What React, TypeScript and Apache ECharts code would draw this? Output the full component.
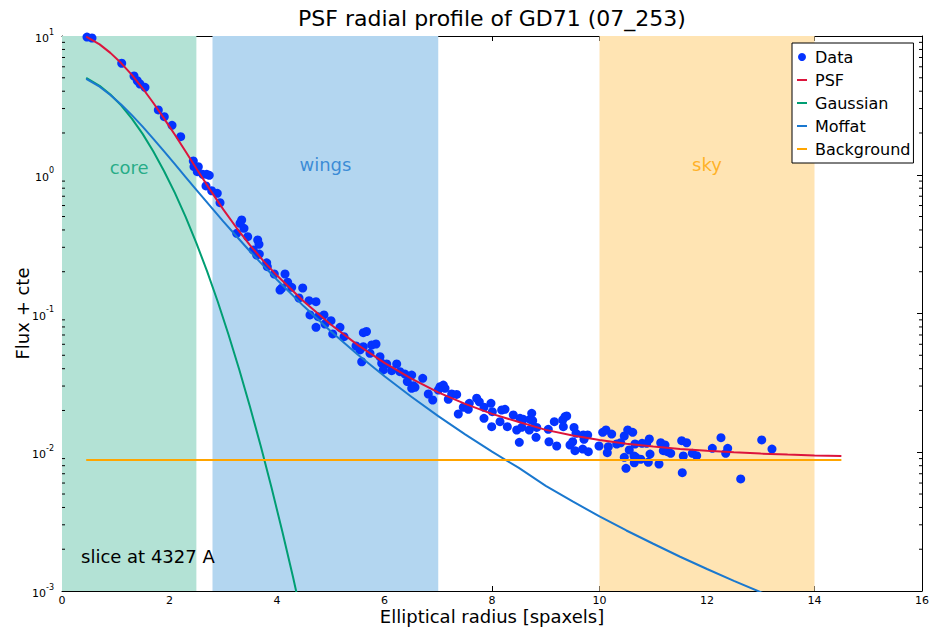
import React, { useEffect, useRef } from "react";
import * as echarts from "echarts";

// ---- data ----
const dataRadius = [
  0.465, 0.558, 1.111, 1.34, 1.401, 1.451, 1.544, 1.792, 1.903, 2.047, 2.208, 2.443, 2.456, 2.536, 2.517, 2.618, 2.692, 2.74, 2.679, 2.785,
  2.889, 2.94, 3.343, 3.312, 3.386, 3.25, 3.455, 3.641, 3.665, 3.559, 3.622, 3.671, 3.808, 3.82, 3.95, 4.149, 4.199, 4.274, 4.087, 4.056,
  4.478, 4.409, 4.595, 4.726, 4.614, 4.768, 4.874, 5.005, 4.893, 4.726, 5.172, 5.036, 5.247, 5.606, 5.665, 5.47, 5.606, 5.762, 5.842, 5.544,
  5.73, 5.576, 5.916, 5.948, 6.041, 6.227, 5.978, 6.134, 6.381, 6.288, 6.506, 6.424, 6.536, 6.506, 6.567, 6.711, 6.815, 6.897, 7.033, 7.094,
  7.126, 7.001, 7.187, 7.25, 7.343, 7.373, 7.466, 7.578, 7.559, 7.715, 7.764, 7.851, 7.851, 7.981, 8.006, 7.994, 8.149, 8.18, 8.242, 8.285,
  8.396, 8.46, 8.508, 8.521, 8.582, 8.553, 8.707, 8.739, 8.694, 8.757, 8.832, 8.819, 9.047, 9.06, 9.159, 9.204, 9.315, 9.358, 9.327, 9.39,
  9.526, 9.563, 9.451, 9.501, 9.544, 9.687, 9.698, 9.78, 9.712, 9.792, 9.991, 10.06, 10.121, 10.227, 10.164, 10.145, 10.32, 10.394, 10.461, 10.525,
  10.618, 10.554, 10.461, 10.493, 10.66, 10.642, 10.647, 10.679, 10.767, 10.791, 10.878, 10.927, 10.908, 10.94, 11.107, 11.139, 11.219, 11.187, 11.261, 11.325,
  11.529, 11.622, 11.559, 11.727, 11.808, 11.54, 12.099, 12.26, 12.385, 12.348, 12.627, 13.018, 13.209,
];
const dataFlux = [
  9.83, 9.67, 6.36, 5.15, 4.76, 4.51, 4.27, 2.93, 2.62, 2.27, 1.88, 1.256, 1.143, 1.143, 1.052, 1.007, 1.007, 0.991, 0.83, 0.767,
  0.735, 0.629, 0.472, 0.447, 0.411, 0.378, 0.358, 0.339, 0.315, 0.287, 0.264, 0.268, 0.232, 0.2175, 0.1926, 0.1926, 0.168, 0.1545, 0.152, 0.1477,
  0.1527, 0.1293, 0.1237, 0.1216, 0.0976, 0.0948, 0.0976, 0.0887, 0.084, 0.0795, 0.0795, 0.0712, 0.0681, 0.0727, 0.0742, 0.0583, 0.0576, 0.0593, 0.0603, 0.0546,
  0.0516, 0.0449, 0.0488, 0.0438, 0.0433, 0.0433, 0.0392, 0.0387, 0.0366, 0.0381, 0.036, 0.0323, 0.0302, 0.0289, 0.0294, 0.0341, 0.0263, 0.0238, 0.0297, 0.0305,
  0.0289, 0.0281, 0.0241, 0.0263, 0.0261, 0.01887, 0.0211, 0.02254, 0.0204, 0.0245, 0.0231, 0.0211, 0.01757, 0.02254, 0.0196, 0.01528, 0.0166, 0.02016, 0.0204, 0.01528,
  0.01856, 0.01447, 0.0118, 0.01757, 0.01728, 0.01513, 0.01728, 0.01909, 0.01447, 0.01689, 0.0151, 0.01282, 0.01464, 0.0119, 0.0166, 0.01109, 0.01708, 0.01804, 0.01528, 0.01825,
  0.0151, 0.01369, 0.01128, 0.0119, 0.01026, 0.01055, 0.01332, 0.01332, 0.0124, 0.01009, 0.01109, 0.01392, 0.01447, 0.01353, 0.01096, 0.00993, 0.01147, 0.01171, 0.0131, 0.01447,
  0.01392, 0.01038, 0.0092, 0.00766, 0.01147, 0.0094, 0.0084, 0.0092, 0.0089, 0.0116, 0.0116, 0.01246, 0.00847, 0.00971, 0.00823, 0.01171, 0.01128, 0.01026, 0.01009, 0.00983,
  0.01211, 0.01171, 0.0094, 0.00983, 0.00944, 0.00712, 0.01068, 0.01273, 0.01068, 0.00983, 0.00642, 0.01226, 0.01055,
];

const modelRadius = [
  0.45, 0.7, 0.9, 1.1, 1.3, 1.5, 1.7, 1.9, 2.1, 2.3, 2.5, 2.75, 3.0, 3.25, 3.5, 3.75, 4.0, 4.5, 5.0, 5.5,
  6.0, 6.5, 7.0, 7.5, 8.0, 8.5, 9.0, 9.5, 10, 10.5, 11, 11.5, 12, 12.5, 13, 13.5, 14, 14.5,
];
const psfFlux = [
  9.9, 8.7, 7.56, 6.38, 5.24, 4.2, 3.29, 2.54, 1.94, 1.47, 1.11, 0.785, 0.563, 0.413, 0.31, 0.2387, 0.1877, 0.122, 0.0833, 0.0594,
  0.0441, 0.0339, 0.027, 0.0223, 0.0189, 0.0165, 0.0145, 0.0132, 0.01225, 0.0115, 0.011, 0.01057, 0.01024, 0.00998, 0.00978, 0.00962, 0.00949, 0.00938,
];
const moffatFlux = [
  4.9, 4.31, 3.76, 3.21, 2.69, 2.22, 1.816, 1.475, 1.193, 0.963, 0.778, 0.599, 0.4617, 0.3588, 0.28, 0.2206, 0.175, 0.1126, 0.0745, 0.0506,
  0.0353, 0.0251, 0.0182, 0.01345, 0.0101, 0.00771, 0.00573, 0.00442, 0.00345, 0.00273, 0.00219, 0.001766, 0.00144, 0.001183, 0.00098, 0.000818, 0.000687, 0.00058,
];
const gaussRadius = [0.45, 0.7, 0.9, 1.1, 1.3, 1.5, 1.7, 1.9, 2.1, 2.3, 2.5, 2.7, 2.9, 3.1, 3.3, 3.5, 3.7, 3.9, 4.1, 4.3, 4.5];
const gaussFlux = [
  4.99, 4.38, 3.79, 3.16, 2.54, 1.97, 1.47, 1.06, 0.74, 0.497, 0.322, 0.201, 0.121, 0.07, 0.0392, 0.0211, 0.011, 0.00552, 0.00267, 0.00125, 0.000561,
];
const backgroundRadius = [0.45, 14.5];
const backgroundFlux = [0.0088, 0.0088];

const bandNames = ["core", "wings", "sky"];
const bandStart = [0, 2.8, 10];
const bandEnd = [2.5, 7.0, 14];

const minorTicks = [
  0.002, 0.003, 0.004, 0.005, 0.006, 0.007, 0.008, 0.009,
  0.02, 0.03, 0.04, 0.05, 0.06, 0.07, 0.08, 0.09,
  0.2, 0.3, 0.4, 0.5, 0.6, 0.7, 0.8, 0.9,
  2, 3, 4, 5, 6, 7, 8, 9,
];

// ---- styles ----
const FONT = "DejaVu Sans";
const C_DATA = "#0433ff";
const C_PSF = "#dc143c";
const C_GAUSS = "#009e73";
const C_MOFFAT = "#1a78cf";
const C_BG = "#ffa500";
const bandFill = ["#b3e2d5", "#b3d6f0", "#ffe4b3"];
const bandText = [C_GAUSS, C_MOFFAT, C_BG];
const bandLabelY = [1.12, 1.18, 1.18];
const LINE_ICON = "path://M0,0L10,0L10,2L0,2Z";

const zip = (xs: number[], ys: number[]) => xs.map((x, i) => [x, ys[i]]);

const axisLineStyle = { show: true, onZero: false, lineStyle: { color: "#000", width: 1 } };
const tickStyle = { show: true, inside: true, length: 5, lineStyle: { color: "#000", width: 1 } };

const option: any = {
  animation: false,
  textStyle: { fontFamily: FONT },
  grid: { left: 62, right: 10, top: 36, bottom: 42, show: false, containLabel: false, outerBoundsMode: "none" },
  xAxis: [
    {
      type: "value",
      min: 0,
      max: 16,
      interval: 2,
      position: "bottom",
      axisLine: axisLineStyle,
      axisTick: tickStyle,
      axisLabel: { fontSize: 11, color: "#000", margin: 4, fontFamily: FONT },
      splitLine: { show: false },
      name: "Elliptical radius [spaxels]",
      nameLocation: "middle",
      nameGap: 16,
      nameMoveOverlap: false,
      nameTextStyle: { fontSize: 18, color: "#000", fontFamily: FONT },
    },
    {
      type: "value",
      min: 0,
      max: 16,
      interval: 2,
      position: "top",
      axisLine: axisLineStyle,
      axisTick: tickStyle,
      axisLabel: { show: false },
      splitLine: { show: false },
    },
  ],
  yAxis: [
    {
      type: "log",
      logBase: 10,
      min: 0.001,
      max: 10,
      position: "left",
      axisLine: axisLineStyle,
      axisTick: tickStyle,
      splitLine: { show: false },
      axisLabel: {
        margin: 8,
        formatter: (v: number) => `{b|10}{s|${Math.round(Math.log10(v))}}`,
        rich: {
          b: { fontSize: 11, color: "#000", fontFamily: FONT, verticalAlign: "bottom", lineHeight: 16 },
          s: { fontSize: 8, color: "#000", fontFamily: FONT, verticalAlign: "top", lineHeight: 10 },
        },
      },
      name: "Flux + cte",
      nameLocation: "middle",
      nameGap: 31,
      nameMoveOverlap: false,
      nameTextStyle: { fontSize: 18, color: "#000", fontFamily: FONT },
    },
    {
      type: "log",
      logBase: 10,
      min: 0.001,
      max: 10,
      position: "right",
      axisLine: axisLineStyle,
      axisTick: tickStyle,
      axisLabel: { show: false },
      splitLine: { show: false },
    },
  ],
  legend: {
    data: [
      { name: "Data", icon: "circle" },
      { name: "PSF", icon: LINE_ICON },
      { name: "Gaussian", icon: LINE_ICON },
      { name: "Moffat", icon: LINE_ICON },
      { name: "Background", icon: LINE_ICON },
    ],
    orient: "vertical",
    left: 792,
    top: 43,
    itemWidth: 10,
    itemHeight: 8,
    itemGap: 5,
    padding: [5, 3, 5, 5],
    borderColor: "#000",
    borderWidth: 1,
    borderRadius: 0,
    backgroundColor: "#fff",
    selectedMode: false,
    textStyle: { fontSize: 16, color: "#000", lineHeight: 18, fontFamily: FONT, padding: [0, 0, 0, 3] },
  },
  graphic: [
    {
      type: "text",
      x: 492,
      y: 18,
      z: 100,
      style: {
        text: "PSF radial profile of GD71 (07_253)",
        fontSize: 22,
        fontFamily: FONT,
        fill: "#000",
        align: "center",
        verticalAlign: "middle",
      },
    },
    {
      type: "text",
      x: 81,
      y: 556,
      z: 100,
      style: {
        text: "slice at 4327 A",
        fontSize: 18,
        fontFamily: FONT,
        fill: "#000",
        align: "left",
        verticalAlign: "middle",
      },
    },
  ],
  series: [
    {
      name: "bands",
      type: "line",
      data: [],
      z: 0,
      silent: true,
      markArea: {
        silent: true,
        label: { show: false },
        data: bandNames.map((n, i) => [
          { name: n, xAxis: bandStart[i], yAxis: 0.001, itemStyle: { color: bandFill[i], opacity: 1 } },
          { xAxis: bandEnd[i], yAxis: 10 },
        ]),
      },
    },
    {
      name: "bandLabels",
      type: "scatter",
      z: 1,
      silent: true,
      symbolSize: 0,
      data: bandNames.map((n, i) => ({
        name: n,
        value: [(bandStart[i] + bandEnd[i]) / 2, bandLabelY[i]],
        label: { color: bandText[i] },
      })),
      label: { show: true, position: "inside", formatter: "{b}", fontSize: 18, fontFamily: FONT },
    },
    {
      name: "Data",
      type: "scatter",
      z: 2,
      symbol: "circle",
      symbolSize: 9,
      itemStyle: { color: C_DATA, opacity: 1 },
      data: zip(dataRadius, dataFlux),
    },
    {
      name: "PSF",
      type: "line",
      z: 3,
      symbol: "none",
      lineStyle: { color: C_PSF, width: 2 },
      itemStyle: { color: C_PSF },
      data: zip(modelRadius, psfFlux),
    },
    {
      name: "Gaussian",
      type: "line",
      z: 3,
      symbol: "none",
      lineStyle: { color: C_GAUSS, width: 2 },
      itemStyle: { color: C_GAUSS },
      data: zip(gaussRadius, gaussFlux),
    },
    {
      name: "Moffat",
      type: "line",
      z: 3,
      symbol: "none",
      lineStyle: { color: C_MOFFAT, width: 2 },
      itemStyle: { color: C_MOFFAT },
      data: zip(modelRadius, moffatFlux),
    },
    {
      name: "Background",
      type: "line",
      z: 3,
      symbol: "none",
      lineStyle: { color: C_BG, width: 2 },
      itemStyle: { color: C_BG },
      data: zip(backgroundRadius, backgroundFlux),
    },
    {
      name: "minorTicks",
      type: "custom",
      z: 10,
      silent: true,
      clip: false,
      data: minorTicks.map((v) => [0, v]),
      renderItem: (_params: any, api: any) => {
        const v = api.value(1);
        const p0 = api.coord([0, v]);
        const p1 = api.coord([16, v]);
        return {
          type: "group",
          children: [
            { type: "line", shape: { x1: p0[0], y1: p0[1], x2: p0[0] + 3, y2: p0[1] }, style: { stroke: "#000", lineWidth: 1 } },
            { type: "line", shape: { x1: p1[0] - 3, y1: p1[1], x2: p1[0], y2: p1[1] }, style: { stroke: "#000", lineWidth: 1 } },
          ],
        };
      },
    },
  ],
};

export default function App() {
  const ref = useRef<HTMLDivElement>(null);
  useEffect(() => {
    if (!ref.current) return;
    const chart = echarts.init(ref.current, undefined, { renderer: "svg" });
    chart.setOption(option);
    return () => chart.dispose();
  }, []);
  return (
    <div
      ref={ref}
      style={{ position: "fixed", left: 0, top: 0, width: 932, height: 633, background: "#fff" }}
    />
  );
}
